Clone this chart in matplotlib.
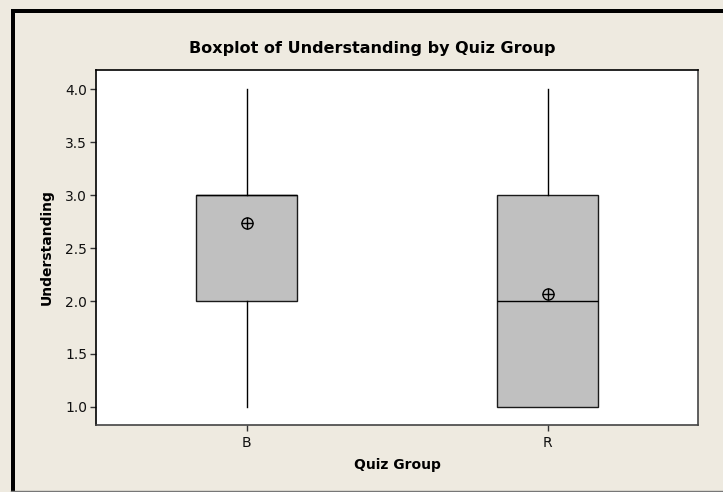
import matplotlib
matplotlib.use("Agg")
import matplotlib.pyplot as plt
from matplotlib.patches import Rectangle
from matplotlib.lines import Line2D

groups = ["B", "R"]
whisker_low = [1.0, 1.0]
q1 = [2.0, 1.0]
median = [3.0, 2.0]
q3 = [3.0, 3.0]
whisker_high = [4.0, 4.0]
means = [2.74, 2.07]

W, H = 723, 492
fig = plt.figure(figsize=(W / 100, H / 100), dpi=100)
fig.patch.set_facecolor("#EEEAE0")

# outer frame
fig.add_artist(Rectangle((11 / W, 1 - 13 / H), 4 / W, -(H - 13) / H, transform=fig.transFigure,
                         facecolor="black", edgecolor="none"))
fig.add_artist(Rectangle((11 / W, 1 - 13 / H), (W - 11) / W, 4 / H, transform=fig.transFigure,
                         facecolor="black", edgecolor="none"))
fig.add_artist(Line2D([11 / W, 1], [1.5 / H, 1.5 / H], transform=fig.transFigure, color="#777777", lw=1))

ax = fig.add_axes([96 / W, 1 - 425 / H, (698 - 96) / W, (425 - 70) / H])
ax.set_facecolor("white")

stats = []
for i, g in enumerate(groups):
    stats.append(dict(label=g, whislo=whisker_low[i], q1=q1[i], med=median[i], q3=q3[i],
                      whishi=whisker_high[i], mean=means[i], fliers=[]))

ax.bxp(stats, positions=[1, 2], widths=0.336, patch_artist=True, showcaps=False,
       showmeans=False,
       boxprops=dict(facecolor="#C0C0C0", edgecolor="#1a1a1a", linewidth=1.0),
       whiskerprops=dict(color="black", linewidth=1.0),
       medianprops=dict(color="black", linewidth=1.0))

ax.plot([1, 2], means, linestyle="none", marker="o", markersize=8, markerfacecolor="none",
        markeredgecolor="black", markeredgewidth=1.0, zorder=5)
ax.plot([1, 2], means, linestyle="none", marker="+", markersize=8,
        markeredgecolor="black", markeredgewidth=1.0, zorder=5)

ax.set_xlim(0.5, 2.5)
ax.set_ylim(0.83, 4.18)
ax.set_yticks([1.0, 1.5, 2.0, 2.5, 3.0, 3.5, 4.0])
ax.set_yticklabels(["1.0", "1.5", "2.0", "2.5", "3.0", "3.5", "4.0"])
ax.set_xticks([1, 2])
ax.set_xticklabels(groups)
ax.tick_params(axis="both", labelsize=10, length=4.5, width=1, color="#333333", pad=2,
               labelcolor="#111111")
ax.tick_params(axis="x", pad=3.5)

for s in ax.spines.values():
    s.set_linewidth(1.2)
    s.set_color("black")
ax.spines["right"].set_color("#444444")
ax.spines["bottom"].set_color("#444444")

ax.set_xlabel("Quiz Group", fontsize=10, fontweight="bold", labelpad=6)
ax.set_ylabel("Understanding", fontsize=10, fontweight="bold", labelpad=8)
fig.text(372 / W, 1 - 48 / H, "Boxplot of Understanding by Quiz Group",
         ha="center", va="center", fontsize=11.5, fontweight="bold")

fig.savefig("out.png", dpi=100, facecolor=fig.get_facecolor())
